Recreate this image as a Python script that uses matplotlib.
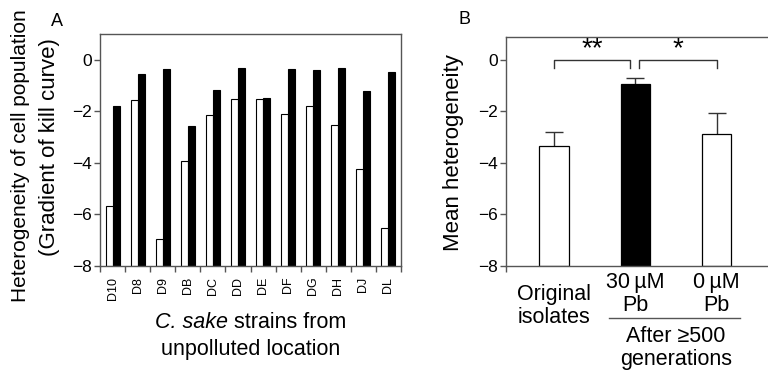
import matplotlib
matplotlib.use('Agg')
import matplotlib.pyplot as plt
import numpy as np
from matplotlib.transforms import blended_transform_factory
from matplotlib.lines import Line2D
from matplotlib.offsetbox import TextArea, HPacker, AnnotationBbox

plt.rcParams['font.family'] = ['Liberation Sans', 'DejaVu Sans']

# ---- data ----
strains = ['D10', 'D8', 'D9', 'DB', 'DC', 'DD', 'DE', 'DF', 'DG', 'DH', 'DJ', 'DL']
original = [-5.69, -1.55, -6.97, -3.94, -2.15, -1.51, -1.51, -2.11, -1.80, -2.52, -4.25, -6.55]
evolved = [-1.78, -0.57, -0.36, -2.56, -1.16, -0.31, -1.47, -0.36, -0.41, -0.31, -1.23, -0.48]

groups = ['Original\nisolates', '30\u2009\u00b5M\nPb', '0\u2009\u00b5M\nPb']
mean_het = [-3.36, -0.93, -2.87]
mean_err = [0.57, 0.22, 0.80]
sig_pairs = [(0, 0.94, '**'), (1.04, 2, '*')]

yticks = [-8, -6, -4, -2, 0]
ybase = -8

W, H = 768, 370
fig = plt.figure(figsize=(W / 100, H / 100), dpi=100)

spine_col = '#555555'

def style(ax):
    for s in ax.spines.values():
        s.set_color(spine_col)
        s.set_linewidth(1.0)
    ax.tick_params(axis='both', which='both', direction='out', color=spine_col,
                   length=4, width=1.0, labelsize=12.5, pad=2)

# ---- Panel A ----
axA = fig.add_axes([100 / W, 1 - 265.7 / H, 301 / W, 231.7 / H])
x = np.arange(len(strains))
bw = 0.28
axA.bar(x - bw / 2, np.array(original) - ybase, bw, bottom=ybase,
        color='white', edgecolor='black', linewidth=0.8)
axA.bar(x + bw / 2, np.array(evolved) - ybase, bw, bottom=ybase,
        color='black', edgecolor='black', linewidth=0.8)
axA.set_xlim(-0.5, len(strains) - 0.5)
axA.set_ylim(-8, 1)
style(axA)
axA.set_yticks(yticks)
axA.set_xticks(np.arange(len(strains) + 1) - 0.5)
axA.set_xticklabels([])
axA.set_xticks(x, minor=True)
axA.set_xticklabels(strains, minor=True, rotation=90, fontsize=9, va='top')
axA.tick_params(axis='x', which='minor', length=0, pad=8)
fig.text(21 / W, 1 - 156 / H, 'Heterogeneity of cell population',
         fontsize=15, rotation=90, ha='center', va='center')
fig.text(50 / W, 1 - 147 / H, '(Gradient of kill curve)',
         fontsize=16, rotation=90, ha='center', va='center')

xl = HPacker(children=[TextArea('C. sake', textprops=dict(fontsize=15.5, style='italic')),
                       TextArea('strains from', textprops=dict(fontsize=15.5))],
             sep=4.3, pad=0, align='baseline')
fig.add_artist(AnnotationBbox(xl, (250.5 / W, 1 - 322 / H), xycoords='figure fraction',
                              frameon=False, box_alignment=(0.5, 0.5), pad=0))
fig.text(250.5 / W, 1 - 349 / H, 'unpolluted location', fontsize=15.5,
         ha='center', va='center')
fig.text(57 / W, 1 - 21 / H, 'A', fontsize=13, ha='center', va='center')

# ---- Panel B ----
axB = fig.add_axes([506 / W, 1 - 265.7 / H, 262 / W, 229 / H])
xb = np.arange(len(groups))
bcolors = ['white', 'black', 'white']
axB.bar(xb, np.array(mean_het) - ybase, 0.36, bottom=ybase, color=bcolors,
        edgecolor='black', linewidth=0.9, zorder=2)
axB.errorbar(xb, mean_het, yerr=mean_err, fmt='none', ecolor='#333333',
             elinewidth=1.0, capsize=6.5, capthick=1.0, zorder=1)
axB.set_xlim(-0.59, 2.63)
axB.set_ylim(-8, 0.9)
style(axB)
axB.spines['right'].set_visible(False)
axB.set_yticks(yticks)
axB.set_xticks([-0.59])
axB.set_xticklabels([])
fig.text(453 / W, 1 - 153 / H, 'Mean heterogeneity', fontsize=16, rotation=90,
         ha='center', va='center')

for x0, x1, star in sig_pairs:
    axB.plot([x0, x0, x1, x1], [-0.33, 0, 0, -0.33], color='#333333', lw=1.0,
             clip_on=False)
    axB.text((x0 + x1) / 2, -0.1, star, ha='center', va='bottom', fontsize=20)

tr = blended_transform_factory(axB.transData, fig.transFigure)
for xi, lab, yy in zip(xb, groups, [1 - 306 / H, 1 - 294 / H, 1 - 294 / H]):
    axB.text(xi, yy, lab, transform=tr, ha='center', va='center',
             fontsize=15.5, linespacing=1.1)
axB.add_line(Line2D([0.68, 2.29], [1 - 318 / H, 1 - 318 / H], transform=tr,
                    color='#555555', lw=1.0, clip_on=False))
axB.text(1.5, 1 - 348 / H, 'After \u2265500\ngenerations', transform=tr,
         ha='center', va='center', fontsize=15.5, linespacing=1.1)
fig.text(465 / W, 1 - 19 / H, 'B', fontsize=13, ha='center', va='center')

fig.savefig('out.png', dpi=100)
